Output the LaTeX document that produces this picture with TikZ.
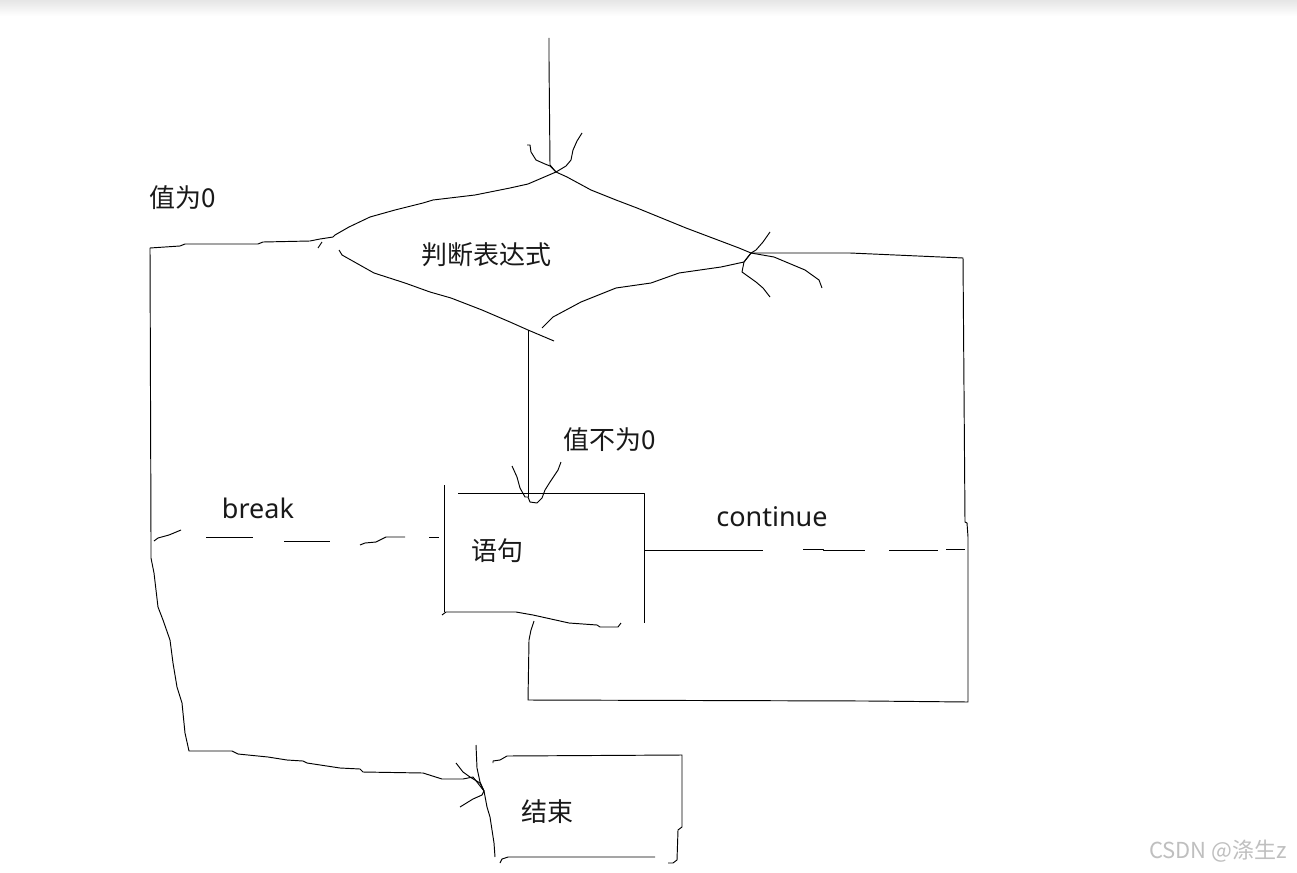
\documentclass[tikz,border=0pt]{standalone}
\usepackage{fontspec}
\setmainfont{Noto Sans}
\newfontfamily\cjk{Noto Sans CJK SC}
\begin{document}
\begin{tikzpicture}[x=1pt,y=-1pt,
  ink/.style={line width=0.95pt,black,line join=round},
  lbl/.style={font=\cjk\fontsize{26}{31}\selectfont,inner sep=0pt,text=black!90},
  lat/.style={font=\fontsize{27}{32}\selectfont,inner sep=0pt,text=black!90},
  wmark/.style={font=\cjk\fontsize{22}{26}\selectfont,inner sep=0pt,text=black!25}]
\useasboundingbox (0,0) rectangle (1297,872);
\fill[white] (0,0) rectangle (1297,872);
\shade[top color=black!10,bottom color=white] (0,0) rectangle (1297,16);

% named points
\coordinate (in0) at (549,38);
\coordinate (top) at (556,172);
\coordinate (lv) at (333,237);
\coordinate (rv) at (751,253);
\coordinate (lt) at (150,248);
\coordinate (ea) at (484,791);
\coordinate (bt) at (528,330);
\coordinate (sa) at (528,497);
\coordinate (cs) at (644,550);
\coordinate (ce) at (965,549);
\coordinate (bs) at (154,541);
\coordinate (be) at (439,537);

% labels
\node[lbl] (v0) at (183,198) {值为0};
\node[lbl] (cond) at (486,255) {判断表达式};
\node[lbl] (vn0) at (610,440) {值不为0};
\node[lat] (brk) at (258,508) {break};
\node[lat] (cont) at (772,517) {continue};
\node[lbl] (stmt) at (497,551) {语句};
\node[lbl] (endn) at (547,812) {结束};
\node[wmark] (wm) at (1218,851) {CSDN @涤生z};

% incoming arrow
\draw[ink] (in0) -- (549,60) -- (550,165) -- (top);
\draw[ink] (527,145) -- (530,145) -- (531,152) -- (536,160) -- (545,164) -- (550,166) -- (top);
\draw[ink] (582,133) -- (577,141) -- (573,150) -- (571,160) -- (566,166) -- (top);

% diamond
\draw[ink] (top) -- (528,184) -- (510,188) -- (475,195) -- (433,200) -- (423,203) -- (395,210) -- (370,217) -- (349,227) -- (335,235) -- (lv);
\draw[ink] (322,242) -- (318,248);
\draw[ink] (339,250) -- (342,255) -- (374,273) -- (405,283) -- (430,292) -- (451,298) -- (482,310) -- (510,322) -- (bt) -- (554,341);
\draw[ink] (542,328) -- (553,317) -- (581,302) -- (616,288) -- (651,283) -- (679,273) -- (721,267) -- (744,262) -- (rv);
\draw[ink] (top) -- (567,177) -- (591,190) -- (616,200) -- (637,208) -- (686,228) -- (739,248) -- (rv) -- (774,257) -- (805,270) -- (819,280) -- (822,288);
% arrow into right vertex
\draw[ink] (770,232) -- (763,242) -- (756,250) -- (rv);
\draw[ink] (rv) -- (744,262) -- (742,272) -- (756,282) -- (763,288) -- (770,297);

% value-0 branch to end
\draw[ink] (lv) -- (320,239) -- (310,241) -- (263,242) -- (258,244) -- (185,244) -- (180,246) -- (lt)
  -- (151,540) -- (151,558) -- (154,573) -- (158,607) -- (163,620) -- (170,640) -- (173,663) -- (177,687) -- (182,703) -- (185,733) -- (189,751)
  -- (232,751) -- (238,754) -- (268,757) -- (287,760) -- (303,761) -- (307,763) -- (340,768) -- (360,769) -- (363,772) -- (423,773) -- (442,779) -- (463,779) -- (473,777) -- (ea);
\draw[ink] (456,763) -- (463,772) -- (470,777) -- (480,783) -- (ea);
\draw[ink] (460,807) -- (473,799) -- (482,795) -- (ea);

% end box
\draw[ink] (476,745) -- (477,768) -- (480,782) -- (ea) -- (487,807) -- (490,817) -- (492,830) -- (494,843) -- (495,857);
\draw[ink] (493,763) -- (493,761) -- (500,760) -- (507,756) -- (682,755) -- (682,827) -- (678,830) -- (677,860) -- (673,863) -- (668,863);
\draw[ink] (500,863) -- (502,859) -- (508,857) -- (655,857);

% value-non-0 branch into statement
\draw[ink] (bt) -- (sa);
\draw[ink] (512,466) -- (517,477) -- (520,488) -- (525,497) -- (sa) -- (530,502) -- (537,503) -- (542,498) -- (545,490) -- (550,482) -- (558,470) -- (561,462);

% statement box
\draw[ink] (444,485) -- (444,612);
\draw[ink] (458,493) -- (644,493) -- (644,623);
\draw[ink] (442,615) -- (446,612) -- (516,612) -- (533,615) -- (569,623) -- (597,625) -- (600,627) -- (618,627) -- (621,623);

% loop back to the condition
\draw[ink] (534,621) -- (531,630) -- (529,640) -- (528,700) -- (867,701) -- (968,702) -- (968,537) -- (967,523) -- (965,522) -- (963,258) -- (850,253) -- (rv);

% continue (dashed)
\draw[ink] (cs) -- (763,550);
\draw[ink] (803,549) -- (823,549) -- (823,550) -- (865,550);
\draw[ink] (889,550) -- (938,550);
\draw[ink] (946,549) -- (ce);

% break (dashed)
\draw[ink] (bs) -- (158,538) -- (169,535) -- (181,530);
\draw[ink] (206,537) -- (253,537);
\draw[ink] (284,541) -- (330,541);
\draw[ink] (360,545) -- (365,543) -- (376,542) -- (386,537) -- (405,537);
\draw[ink] (429,537) -- (be);
\end{tikzpicture}
\end{document}
